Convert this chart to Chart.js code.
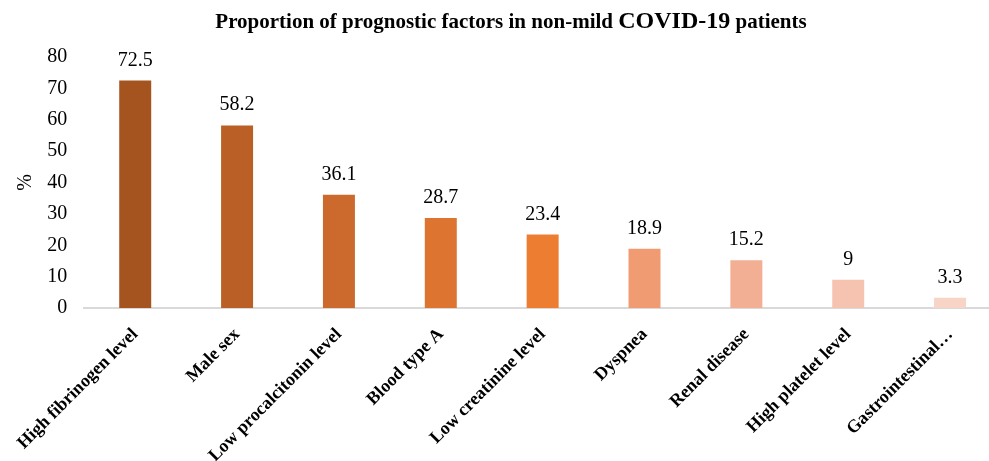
<!DOCTYPE html>
<html>
<head>
<meta charset="utf-8">
<script src="https://cdn.jsdelivr.net/npm/chart.js@4.4.1/dist/chart.umd.min.js"></script>
<style>
  html, body { margin: 0; padding: 0; background: #fff; overflow: hidden; }
  #wrap { width: 1003px; height: 461px; }
</style>
</head>
<body>
<div id="wrap"><canvas id="c" width="1003" height="461"></canvas></div>
<script>
const categories = ["High fibrinogen level", "Male sex", "Low procalcitonin level", "Blood type A",
  "Low creatinine level", "Dyspnea", "Renal disease", "High platelet level", "Gastrointestinal…"];
const values = [72.5, 58.2, 36.1, 28.7, 23.4, 18.9, 15.2, 9, 3.3];
const barColors = ["#A5531F", "#BA6026", "#CB6A2C", "#DD7430", "#ED7D31", "#F09B72", "#F2AF94", "#F5C3B0", "#F7D4C6"];
const yTicks = [0, 10, 20, 30, 40, 50, 60, 70, 80];
const titleParts = [
  { text: "Proportion of prognostic factors in non-mild ", size: 21 },
  { text: "COVID-19", size: 24 },
  { text: " patients", size: 21 }
];

const SERIF = '"Liberation Serif", "Times New Roman", serif';

const titlePlugin = {
  id: 'mixedTitle',
  afterDraw(chart) {
    const ctx = chart.ctx;
    ctx.save();
    ctx.fillStyle = '#000';
    ctx.textBaseline = 'alphabetic';
    ctx.textAlign = 'left';
    let total = 0;
    titleParts.forEach(p => { ctx.font = 'bold ' + p.size + 'px ' + SERIF; total += ctx.measureText(p.text).width; });
    const cx = 511;
    let x = cx - total / 2;
    titleParts.forEach(p => {
      ctx.font = 'bold ' + p.size + 'px ' + SERIF;
      ctx.fillText(p.text, x, 28);
      x += ctx.measureText(p.text).width;
    });
    ctx.restore();
  }
};

const valueLabels = {
  id: 'valueLabels',
  afterDatasetsDraw(chart) {
    const ctx = chart.ctx;
    const meta = chart.getDatasetMeta(0);
    ctx.save();
    ctx.font = '20px ' + SERIF;
    ctx.fillStyle = '#000';
    ctx.textAlign = 'center';
    ctx.textBaseline = 'alphabetic';
    meta.data.forEach((bar, i) => {
      ctx.fillText(String(values[i]), bar.x, bar.y - 15);
    });
    ctx.restore();
  }
};

new Chart(document.getElementById('c'), {
  type: 'bar',
  data: {
    labels: categories,
    datasets: [{
      data: values,
      backgroundColor: barColors,
      borderWidth: 0,
      categoryPercentage: 1,
      barPercentage: 0.314
    }]
  },
  options: {
    responsive: false,
    animation: false,
    events: [],
    layout: { padding: { top: 57, right: 2, left: 0, bottom: 0 } },
    plugins: {
      legend: { display: false },
      title: { display: false },
      tooltip: { enabled: false }
    },
    scales: {
      y: {
        min: 0, max: 80,
        afterFit(s) { s.width = 84; },
        afterBuildTicks(s) { s.ticks = yTicks.map(v => ({ value: v })); },
        grid: { display: false, drawTicks: false },
        border: { display: false },
        ticks: { font: { size: 20, family: SERIF }, color: '#000', padding: 17 },
        title: { display: true, text: '%', font: { size: 20, family: SERIF }, color: '#000', padding: { top: 13, bottom: 0 } }
      },
      x: {
        afterFit(s) { s.height = 153; },
        grid: { display: false, drawTicks: false },
        border: { display: true, color: '#D9D9D9', width: 2 },
        ticks: {
          font: { size: 18, weight: 'bold', family: SERIF },
          color: '#000',
          minRotation: 45, maxRotation: 45,
          autoSkip: false,
          padding: 16
        }
      }
    }
  },
  plugins: [titlePlugin, valueLabels]
});
</script>
</body>
</html>
